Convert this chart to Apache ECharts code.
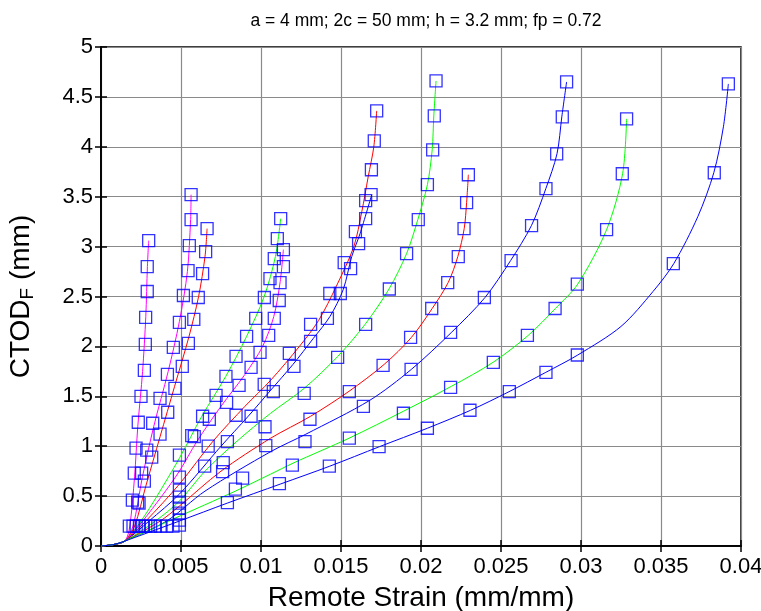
<!DOCTYPE html>
<html>
<head>
<meta charset="utf-8">
<script src="https://cdn.jsdelivr.net/npm/echarts@6/dist/echarts.min.js"></script>
<style>
  html, body { margin: 0; padding: 0; background: #fff; }
  #chart { width: 761px; height: 611px; }
</style>
</head>
<body>
<div id="chart"></div>
<script>
// axis ticks
const xTicks = [0, 0.005, 0.01, 0.015, 0.02, 0.025, 0.03, 0.035, 0.04];
const yTicks = [0, 0.5, 1, 1.5, 2, 2.5, 3, 3.5, 4, 4.5, 5];

// line colour of each curve (left to right)
const curveColors = ['#ff00ff', '#ff00ff', '#ff0000', '#00ff00', '#ff00ff', '#ff0000',
                     '#0000ff', '#00ff00', '#ff0000', '#0000ff', '#00ff00', '#0000ff'];

// curve lines [strain, CTOD]
const line1 = [[0,0],[0.0008,0.015],[0.0015,0.05],[0.0018,0.2],[0.0021,0.7],[0.0023,1.2],[0.0026,1.75],[0.0028,2.3],[0.0029,2.8],[0.00298,3.06]];
const line2 = [[0,0],[0.0008,0.015],[0.0015,0.05],[0.002,0.2],[0.0026,0.7],[0.0033,1.2],[0.0042,1.75],[0.0049,2.25],[0.0054,2.75],[0.0056,3.27],[0.00563,3.52]];
const line3 = [[0,0],[0.0008,0.015],[0.0015,0.05],[0.0021,0.2],[0.0028,0.6],[0.0037,1.1],[0.0046,1.6],[0.0055,2.1],[0.0061,2.5],[0.0065,2.9],[0.00663,3.18]];
const line4 = [[0,0],[0.0008,0.015],[0.0015,0.05],[0.0025,0.25],[0.0035,0.5],[0.0049,0.88],[0.0063,1.3],[0.0078,1.7],[0.0091,2.1],[0.0102,2.5],[0.0109,2.9],[0.01123,3.28]];
const line5 = [[0,0],[0.0008,0.015],[0.0015,0.05],[0.0026,0.25],[0.0038,0.5],[0.0049,0.75],[0.006,1.05],[0.0075,1.4],[0.009,1.72],[0.0101,2.0],[0.0108,2.3],[0.0112,2.65],[0.0114,2.97]];
const line6 = [[0,0],[0.0008,0.015],[0.0015,0.05],[0.0028,0.25],[0.0049,0.62],[0.007,1.05],[0.009,1.4],[0.0106,1.66],[0.0124,2.0],[0.0136,2.26],[0.0147,2.6],[0.0158,3.0],[0.0163,3.35],[0.0167,3.7],[0.01705,4.0],[0.01723,4.36]];
const line7 = [[0,0],[0.0008,0.015],[0.0015,0.05],[0.003,0.25],[0.0049,0.52],[0.0075,1.0],[0.0092,1.3],[0.0106,1.56],[0.012,1.82],[0.01327,2.08],[0.01431,2.3],[0.01514,2.57],[0.01567,2.9],[0.01619,3.13],[0.01692,3.52]];
const line8 = [[0,0],[0.0008,0.015],[0.0015,0.05],[0.0034,0.25],[0.0049,0.45],[0.0065,0.75],[0.0085,1.05],[0.0106,1.33],[0.0127,1.58],[0.0148,1.9],[0.0165,2.22],[0.018,2.575],[0.0191,2.93],[0.0198,3.27],[0.0204,3.62],[0.0207,3.97],[0.0208,4.31],[0.02094,4.66]];
const line9 = [[0,0],[0.0008,0.015],[0.0015,0.05],[0.0037,0.25],[0.0049,0.4],[0.0075,0.75],[0.0106,1.08],[0.0131,1.3],[0.0155,1.55],[0.0177,1.82],[0.0194,2.09],[0.0207,2.38],[0.0217,2.64],[0.0223,2.9],[0.0227,3.18],[0.02285,3.44],[0.02296,3.72]];
const line10 = [[0,0],[0.0008,0.015],[0.0015,0.05],[0.0041,0.25],[0.0065,0.55],[0.0106,0.945],[0.0128,1.12],[0.0168,1.46],[0.0194,1.77],[0.0219,2.14],[0.024,2.49],[0.0256,2.86],[0.0269,3.21],[0.0278,3.58],[0.0285,3.93],[0.0288,4.3],[0.0291,4.65]];
const line11 = [[0,0],[0.0008,0.015],[0.0015,0.05],[0.0045,0.27],[0.0084,0.55],[0.0106,0.72],[0.012,0.83],[0.0155,1.08],[0.0189,1.35],[0.0219,1.6],[0.0245,1.84],[0.0267,2.11],[0.0284,2.38],[0.0298,2.625],[0.0316,3.17],[0.0326,3.73],[0.03285,4.28]];
const line12 = [[0,0],[0.0008,0.015],[0.0015,0.05],[0.0049,0.25],[0.0079,0.43],[0.0112,0.62],[0.0143,0.8],[0.0174,0.995],[0.0204,1.18],[0.0231,1.36],[0.0255,1.546],[0.0278,1.74],[0.0298,1.914],[0.0325,2.2],[0.0345,2.55],[0.0358,2.83],[0.0373,3.3],[0.0383,3.74],[0.0389,4.2],[0.03921,4.63]];

// measured points (squares)
const marks1 = [[0.00177,0.2],[0.00196,0.46],[0.00208,0.73],[0.00219,0.98],[0.00233,1.24],[0.0025,1.5],[0.00271,1.76],[0.00277,2.02],[0.00279,2.29],[0.00289,2.55],[0.00289,2.8],[0.00298,3.06]];
const marks2 = [[0.002,0.2],[0.00229,0.44],[0.00254,0.73],[0.00286,0.96],[0.00323,1.23],[0.00369,1.48],[0.00415,1.72],[0.00452,1.99],[0.0049,2.24],[0.00515,2.51],[0.00544,2.76],[0.00552,3.01],[0.00563,3.27],[0.00563,3.52]];
const marks3 = [[0.0022,0.2],[0.00238,0.43],[0.00271,0.65],[0.00317,0.89],[0.00369,1.12],[0.00417,1.34],[0.00462,1.58],[0.00508,1.8],[0.00546,2.03],[0.0058,2.27],[0.00608,2.49],[0.00635,2.73],[0.00654,2.95],[0.00663,3.18]];
const marks4 = [[0.0024,0.2],[0.0049,0.91],[0.00567,1.105],[0.00635,1.3],[0.00719,1.51],[0.00781,1.7],[0.00844,1.9],[0.0091,2.1],[0.00967,2.28],[0.01021,2.49],[0.01056,2.68],[0.01083,2.88],[0.01102,3.08],[0.01123,3.28]];
const marks5 = [[0.0026,0.2],[0.0049,0.69],[0.00583,1.095],[0.00677,1.27],[0.00785,1.44],[0.00863,1.61],[0.00938,1.79],[0.00994,1.94],[0.01048,2.11],[0.01083,2.28],[0.01114,2.46],[0.01119,2.64],[0.0114,2.8],[0.0114,2.97]];
const marks6 = [[0.0028,0.2],[0.0049,0.56],[0.0067,1.0],[0.00844,1.31],[0.0102,1.62],[0.01177,1.93],[0.0131,2.22],[0.0143,2.53],[0.0152,2.84],[0.0159,3.15],[0.01654,3.46],[0.0169,3.77],[0.01708,4.06],[0.01723,4.36]];
const marks7 = [[0.0031,0.2],[0.0049,0.49],[0.00648,0.8],[0.0079,1.045],[0.00938,1.3],[0.01077,1.546],[0.01206,1.8],[0.0131,2.05],[0.01415,2.28],[0.01496,2.53],[0.0156,2.78],[0.0161,3.03],[0.01654,3.28],[0.01688,3.52]];
const marks8 = [[0.0034,0.2],[0.0049,0.43],[0.00764,0.835],[0.01025,1.195],[0.0127,1.53],[0.01479,1.89],[0.01654,2.22],[0.01802,2.575],[0.0191,2.93],[0.01983,3.27],[0.0204,3.62],[0.02073,3.97],[0.02083,4.31],[0.02094,4.66]];
const marks9 = [[0.0037,0.2],[0.0049,0.38],[0.0076,0.745],[0.0103,1.005],[0.01306,1.27],[0.01552,1.546],[0.01763,1.81],[0.01935,2.09],[0.02067,2.38],[0.02167,2.64],[0.02233,2.9],[0.02269,3.18],[0.02285,3.44],[0.02296,3.72]];
const marks10 = [[0.0041,0.2],[0.0049,0.33],[0.00885,0.68],[0.01275,1.045],[0.0164,1.4],[0.01938,1.77],[0.02185,2.14],[0.02396,2.49],[0.02563,2.86],[0.02691,3.21],[0.02781,3.58],[0.02848,3.93],[0.02883,4.3],[0.0291,4.65]];
const marks11 = [[0.0045,0.2],[0.0049,0.26],[0.0084,0.57],[0.01196,0.81],[0.01552,1.08],[0.0189,1.33],[0.02185,1.59],[0.02452,1.84],[0.02665,2.11],[0.02838,2.38],[0.02977,2.625],[0.0316,3.17],[0.03258,3.73],[0.03285,4.28]];
const marks12 = [[0.0049,0.21],[0.0079,0.434],[0.01115,0.624],[0.01427,0.8],[0.01738,0.995],[0.0204,1.18],[0.02306,1.36],[0.02552,1.546],[0.02781,1.74],[0.02977,1.914],[0.03577,2.83],[0.03833,3.74],[0.03921,4.63]];

const curveLines = [line1, line2, line3, line4, line5, line6, line7, line8, line9, line10, line11, line12];
const curveMarks = [marks1, marks2, marks3, marks4, marks5, marks6, marks7, marks8, marks9, marks10, marks11, marks12];

const chart = echarts.init(document.getElementById('chart'));

const FONT = 'Liberation Sans, Arial, sans-serif';
const gridColor = '#8a8a8a';

const series = [];
curveLines.forEach(function (pts, i) {
    series.push({
        type: 'line',
        data: pts,
        smooth: 0.3,
        showSymbol: false,
        silent: true,
        lineStyle: { color: curveColors[i], width: 1 },
        z: 2
    });
    series.push({
        type: 'scatter',
        data: curveMarks[i],
        symbol: 'rect',
        symbolSize: 12,
        silent: true,
        itemStyle: { color: 'transparent', borderColor: '#0000ff', borderWidth: 1.3 },
        z: 3
    });
});

const baseAxisLine = { show: true, lineStyle: { color: '#000', width: 1.5 } };
const tickStyle = { inside: true, length: 6, lineStyle: { color: '#000', width: 1.5 } };

const option = {
    backgroundColor: '#fff',
    animation: false,
    title: {
        text: 'a = 4 mm; 2c = 50 mm; h = 3.2 mm; fp = 0.72',
        left: 421,
        top: 7,
        textAlign: 'center',
        textStyle: { fontFamily: FONT, fontSize: 17.5, fontWeight: 'normal', color: '#000' }
    },
    grid: {
        left: 101, top: 47, width: 640, height: 499,
        outerBoundsMode: 'none',
        containLabel: false,
        show: true, borderColor: '#000', borderWidth: 1.5, backgroundColor: 'transparent'
    },
    xAxis: [{
        type: 'value', min: xTicks[0], max: xTicks[xTicks.length - 1], interval: 0.005,
        position: 'bottom',
        name: 'Remote Strain (mm/mm)',
        nameLocation: 'middle', nameGap: 38,
        nameTextStyle: { fontFamily: FONT, fontSize: 28, color: '#000' },
        axisLine: baseAxisLine,
        axisTick: tickStyle,
        axisLabel: { fontFamily: FONT, fontSize: 22, color: '#000', margin: 10 },
        splitLine: { show: true, lineStyle: { color: gridColor, width: 1.2 } }
    }, {
        type: 'value', min: xTicks[0], max: xTicks[xTicks.length - 1], interval: 0.005,
        position: 'top',
        axisLine: baseAxisLine,
        axisTick: tickStyle,
        axisLabel: { show: false },
        splitLine: { show: false }
    }],
    yAxis: [{
        type: 'value', min: yTicks[0], max: yTicks[yTicks.length - 1], interval: 0.5,
        position: 'left',
        name: '{a|CTOD}{b|F}{a| (mm)}',
        nameLocation: 'middle', nameGap: 64, nameRotate: 90,
        nameTextStyle: {
            color: '#000',
            rich: {
                a: { fontFamily: FONT, fontSize: 28, color: '#000', lineHeight: 32 },
                b: { fontFamily: FONT, fontSize: 19, color: '#000', lineHeight: 32, padding: [14, 0, 0, 0] }
            }
        },
        axisLine: baseAxisLine,
        axisTick: tickStyle,
        axisLabel: { fontFamily: FONT, fontSize: 22, color: '#000', margin: 8 },
        splitLine: { show: true, lineStyle: { color: gridColor, width: 1.2 } }
    }, {
        type: 'value', min: yTicks[0], max: yTicks[yTicks.length - 1], interval: 0.5,
        position: 'right',
        axisLine: baseAxisLine,
        axisTick: tickStyle,
        axisLabel: { show: false },
        splitLine: { show: false }
    }],
    series: series
};

chart.setOption(option);
</script>
</body>
</html>
